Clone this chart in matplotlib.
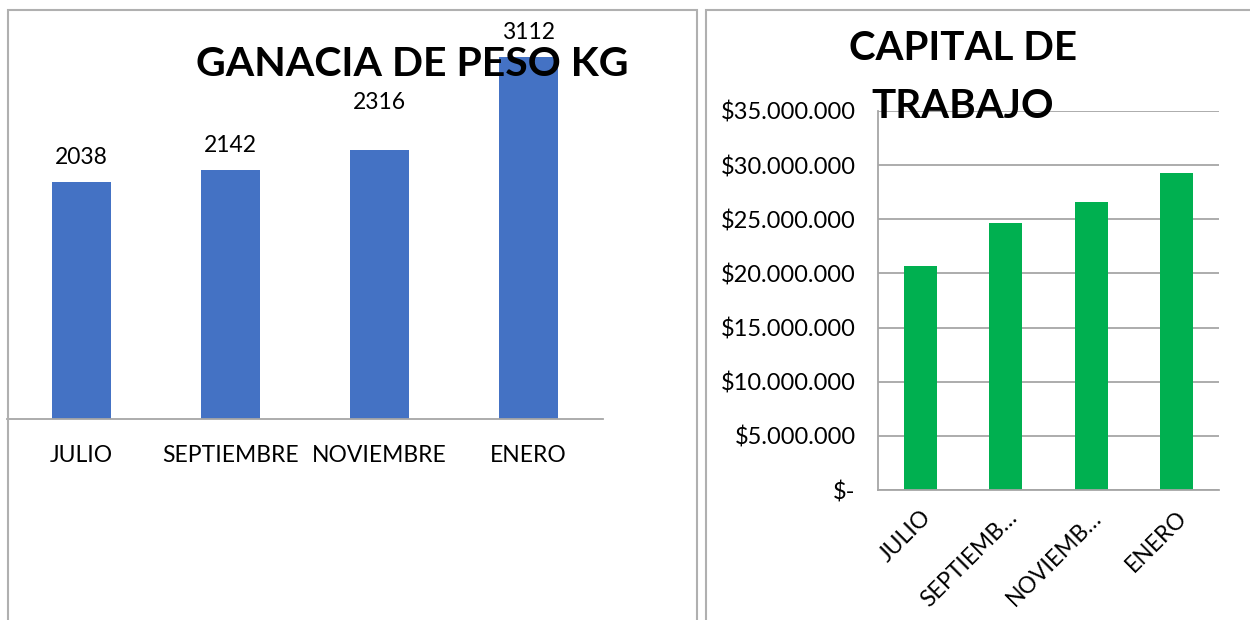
import matplotlib
matplotlib.use("Agg")
import matplotlib.pyplot as plt
from matplotlib.patches import Rectangle
from matplotlib.ticker import FuncFormatter

meses = ["JULIO", "SEPTIEMBRE", "NOVIEMBRE", "ENERO"]
meses_cortos = ["JULIO", "SEPTIEMB…", "NOVIEMB…", "ENERO"]
ganancia_kg = [2038, 2142, 2316, 3112]
capital = [20650000, 24630000, 26570000, 29230000]
capital_ticks = [0, 5000000, 10000000, 15000000, 20000000, 25000000, 30000000, 35000000]

W, H = 1250, 620
plt.rcParams['font.family'] = ['Lato', 'DejaVu Sans']
fig = plt.figure(figsize=(W / 100, H / 100), dpi=100)


def box(x0, y0, x1, y1):
    return [x0 / W, 1 - y1 / H, (x1 - x0) / W, (y1 - y0) / H]


# chart frames
for (x0, y0, x1, y1) in [(8, 10, 697, 630), (706, 10, 1260, 630)]:
    fig.patches.append(Rectangle((x0 / W, 1 - y1 / H), (x1 - x0) / W, (y1 - y0) / H,
                                 transform=fig.transFigure, fill=False,
                                 edgecolor="#b0b0b0", linewidth=1.5, zorder=0))

# ---- left chart ----
ax1 = fig.add_axes(box(7, 10, 603, 419))
x = range(len(meses))
ax1.bar(x, ganancia_kg, width=0.4, color="#4472C4", zorder=2)
ax1.set_xlim(-0.5, len(meses) - 0.5)
ax1.set_ylim(0, 3516)
for s in ["top", "left", "right"]:
    ax1.spines[s].set_visible(False)
ax1.spines["bottom"].set_color("#a6a6a6")
ax1.spines["bottom"].set_linewidth(1.3)
ax1.set_yticks([])
ax1.set_xticks(list(x))
ax1.set_xticklabels(meses, fontsize=16.5, color="#000000")
ax1.tick_params(axis="x", length=0, pad=19)
label_offsets = [10, 10, 26, 10]
for xi, v, off in zip(x, ganancia_kg, label_offsets):
    ax1.annotate(str(v), (xi, v), xytext=(0, off), textcoords="offset points",
                 ha="center", va="bottom", fontsize=16.5)
ax1.patch.set_alpha(0)
fig.text(412 / W, 1 - 65 / H, "GANACIA DE PESO KG", ha="center", va="center",
         fontsize=29.5, fontweight="bold", zorder=5)

# ---- right chart ----
ax2 = fig.add_axes(box(878, 111, 1219, 490))
ax2.bar(x, capital, width=0.39, color="#00B050", zorder=2)
ax2.set_xlim(-0.5, len(meses) - 0.5)
ax2.set_ylim(0, 35000000)
ax2.set_yticks(capital_ticks)


def fmt(v, pos):
    if v == 0:
        return "$-"
    return "$" + f"{int(v):,}".replace(",", ".")


ax2.yaxis.set_major_formatter(FuncFormatter(fmt))
ax2.grid(axis="y", color="#a6a6a6", linewidth=1.3, zorder=0)
for s in ["top", "right"]:
    ax2.spines[s].set_visible(False)
ax2.spines["left"].set_color("#a6a6a6")
ax2.spines["bottom"].set_color("#a6a6a6")
ax2.spines["left"].set_linewidth(1.3)
ax2.spines["bottom"].set_linewidth(1.3)
ax2.tick_params(axis="y", length=0, pad=16, labelsize=17)
ax2.set_xticks(list(x))
ax2.set_xticklabels(meses_cortos, rotation=45, ha="right", rotation_mode="anchor",
                    fontsize=16.5)
ax2.tick_params(axis="x", length=0, pad=12)
ax2.patch.set_alpha(0)
fig.text(963 / W, 1 - 48 / H, "CAPITAL DE", ha="center", va="center",
         fontsize=29, fontweight="bold", zorder=5)
fig.text(963 / W, 1 - 106 / H, "TRABAJO", ha="center", va="center",
         fontsize=29, fontweight="bold", zorder=5)

fig.savefig("out.png", dpi=100)
